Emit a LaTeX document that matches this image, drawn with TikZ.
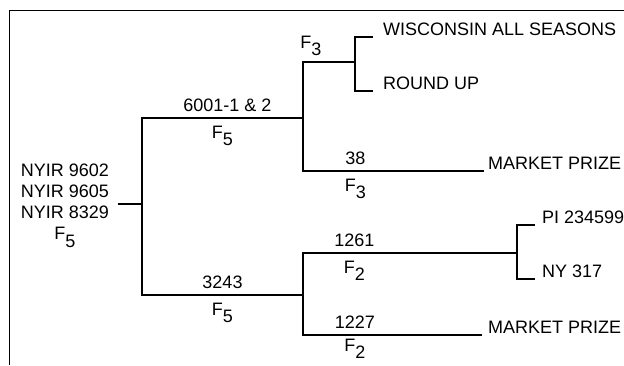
\documentclass[tikz,border=0pt]{standalone}
\usepackage{fontspec}
\setmainfont{Liberation Sans}
\usetikzlibrary{positioning}
\newcommand{\Fgen}[1]{F\raisebox{-0.42em}{#1}}

\begin{document}
\begin{tikzpicture}[x=1pt, y=-1pt, font=\fontsize{18}{21}\selectfont,
  branch/.style={line width=1.4pt},
  frame/.style={line width=1pt},
  leaf/.style={anchor=south west, inner xsep=0pt, inner ysep=1pt},
  over/.style={above=2pt},
  under/.style={below=4pt}]
  \useasboundingbox (0,0) rectangle (624,365);
  % cropped frame
  \draw[frame] (9,365) -- (9,10) -- (624,10);

  \node[align=center] (root) at (65,206) {NYIR 9602\\NYIR 9605\\NYIR 8329\\\Fgen{5}};
  \coordinate (j0) at (142,204);
  \coordinate (j1) at (303,118);
  \coordinate (j2) at (303,295);
  \coordinate (j3) at (355,62);
  \coordinate (j4) at (517,253);

  \node[leaf] (wis) at (383,37) {WISCONSIN ALL SEASONS};
  \node[leaf] (rnd) at (383,91) {ROUND UP};
  \node[leaf] (mp1) at (488,171) {MARKET PRIZE};
  \node[leaf] (pi) at (542,225) {PI 234599};
  \node[leaf] (ny) at (542,279) {NY 317};
  \node[leaf] (mp2) at (488,335) {MARKET PRIZE};

  \draw[branch] ([xshift=5pt]root.east |- j0) -- (j0);
  \draw[branch] (j1) -- node[pos=.47, over]{6001-1 \& 2} node[pos=.5, under]{\Fgen{5}} (j1 -| j0)
    -- (j2 -| j0) -- node[over]{3243} node[under]{\Fgen{5}} (j2);

  % upper group
  \draw[branch] ([xshift=-4pt]mp1.south west) -- node[pos=.71, over]{38} node[pos=.71, under]{\Fgen{3}} (j1 |- mp1.south)
    -- (j1 |- j3) -- node[pos=.15, over]{\Fgen{3}} (j3);
  \draw[branch] ([xshift=-10pt]wis.south west) -| (j3) |- ([xshift=-10pt]rnd.south west);

  % lower group
  \draw[branch] ([xshift=-6pt]mp2.south west) -- node[pos=.71, over]{1227} node[pos=.71, below=0pt]{\Fgen{2}} (j2 |- mp2.south)
    -- (j2 |- j4) -- node[pos=.24, over]{1261} node[pos=.24, under]{\Fgen{2}} (j4);
  \draw[branch] ([xshift=-7pt]pi.south west) -| (j4) |- ([xshift=-7pt]ny.south west);
\end{tikzpicture}
\end{document}
